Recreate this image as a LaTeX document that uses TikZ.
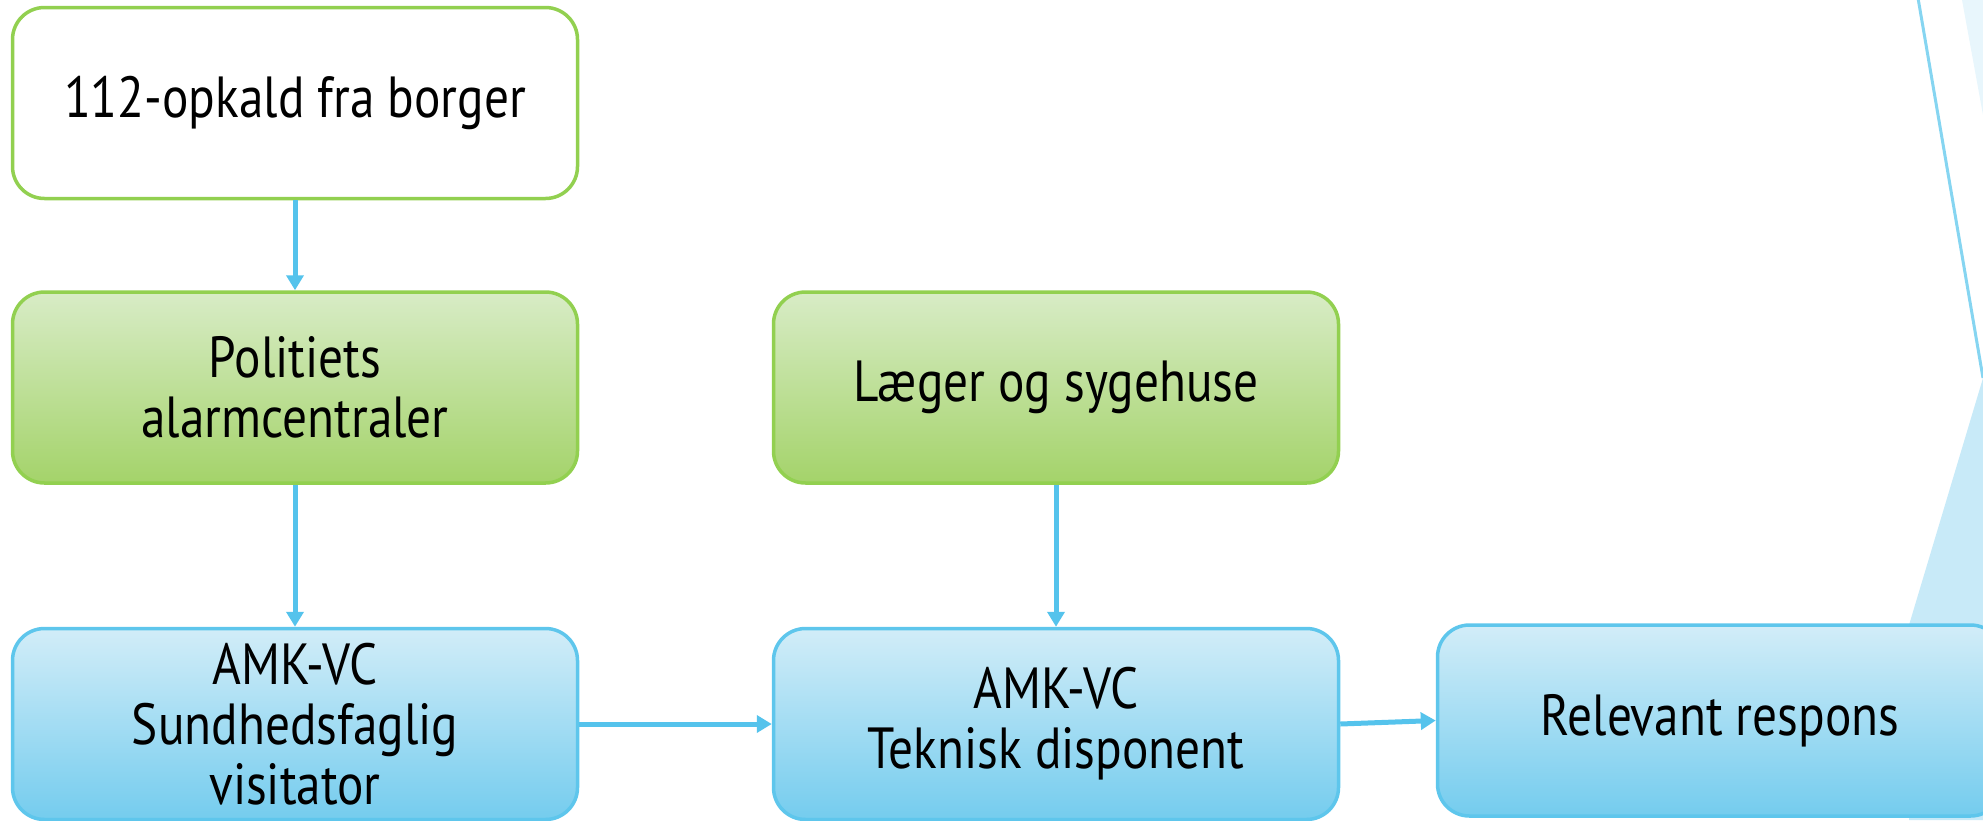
\documentclass[tikz,border=0pt]{standalone}
\usepackage{fontspec}
\setmainfont[FakeStretch=0.85]{PT Sans}
\usetikzlibrary{arrows.meta}
\definecolor{grnB}{HTML}{92D050}
\definecolor{grnT}{HTML}{D8ECC6}
\definecolor{grnL}{HTML}{A4D36A}
\definecolor{bluB}{HTML}{5EC6EC}
\definecolor{bluT}{HTML}{D2EDF8}
\definecolor{bluL}{HTML}{74CCEE}
\definecolor{arr}{HTML}{55C3EC}
\definecolor{deco}{HTML}{86D5F1}
\definecolor{decofill}{HTML}{C8EAF8}
\definecolor{decofaint}{HTML}{E8F6FC}
\tikzset{
  box/.style={rectangle, rounded corners=32pt, minimum width=565pt, minimum height=191pt,
    line width=3.5pt, align=center, font=\fontsize{58}{60}\selectfont, inner sep=0pt},
  whitebox/.style={box, draw=grnB, fill=white},
  greenbox/.style={box, draw=grnB, top color=grnT, bottom color=grnL},
  bluebox/.style={box, draw=bluB, top color=bluT, bottom color=bluL},
  conn/.style={draw=arr, line width=5pt, -{Triangle[length=15pt,width=17pt]}}
}
\begin{document}
\begin{tikzpicture}[x=1pt,y=-1pt]
\useasboundingbox (0,0) rectangle (1983,820);
\clip (0,0) rectangle (1983,820);
% decoration on the right
\fill[decofaint] (1962,0) -- (1983,0) -- (1983,115) -- cycle;
\fill[decofill] (1983,378) -- (1909,625) -- (1909,820) -- (1983,820) -- cycle;
\draw[deco, line width=3pt] (1918,-2) -- (1983,378);
% nodes
\node[whitebox] (call) at (295,103) {112-opkald fra borger};
\node[greenbox] (pol) at (295,387.5) {Politiets\\alarmcentraler};
\node[greenbox] (laeg) at (1056,387.5) {Læger og sygehuse};
\node[bluebox] (sund) at (295,724) {AMK-VC\\Sundhedsfaglig\\visitator};
\node[bluebox] (tek) at (1056,724) {AMK-VC\\Teknisk disponent};
\node[bluebox] (resp) at (1720,720.5) {Relevant respons};
% connectors
\draw[conn] (call) -- (pol);
\draw[conn] (pol) -- (sund);
\draw[conn] (laeg) -- (tek);
\draw[conn] (sund.east) -- (tek.west);
\draw[conn] (tek.east) -- (resp.west);
\end{tikzpicture}
\end{document}
